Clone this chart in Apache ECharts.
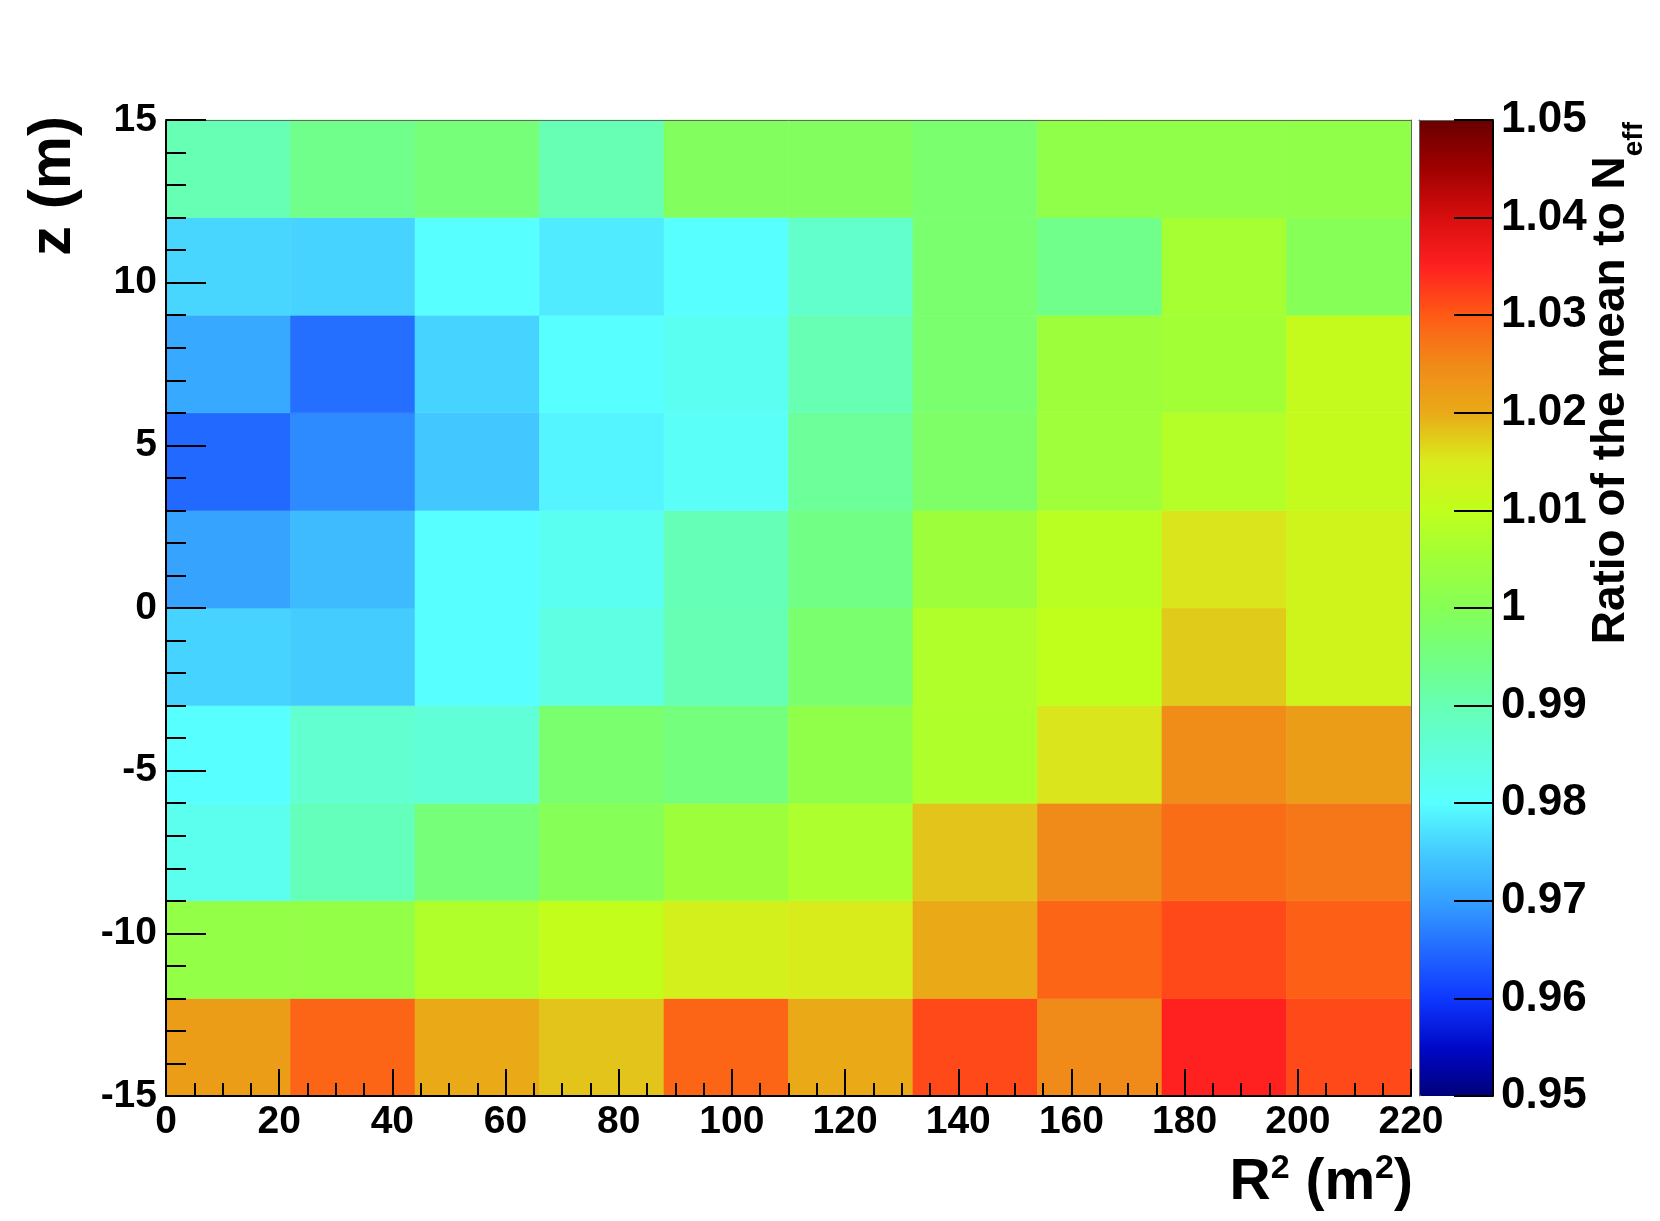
<!DOCTYPE html>
<html>
<head>
    <meta charset="utf-8">
    <title>Ratio of the mean to Neff</title>
    <script src="https://cdn.jsdelivr.net/npm/echarts@6/dist/echarts.min.js"></script>
    <style>
        html, body { margin: 0; padding: 0; background: #ffffff; }
        #chart { width: 1660px; height: 1221px; }
    </style>
</head>
<body>
<div id="chart"></div>
<script>
    // bin edges
    var r2Edges = [0, 22, 44, 66, 88, 110, 132, 154, 176, 198, 220];
    var zEdges = [-15, -12, -9, -6, -3, 0, 3, 6, 9, 12, 15];

    // ratio of the mean to Neff, one array per z bin (bottom to top), one value per R2 bin
    var zBinM15 = [1.022, 1.029, 1.020, 1.018, 1.029, 1.020, 1.0315, 1.025, 1.035, 1.0315];
    var zBinM12 = [1.0025, 1.0025, 1.0075, 1.0105, 1.014, 1.015, 1.020, 1.029, 1.0315, 1.0295];
    var zBinM9 = [0.9825, 0.989, 0.996, 1.000, 1.0045, 1.007, 1.018, 1.025, 1.028, 1.027];
    var zBinM6 = [0.980, 0.9865, 0.9855, 0.997, 0.9955, 1.002, 1.0073, 1.0155, 1.0245, 1.022];
    var zBinM3 = [0.9757, 0.975, 0.980, 0.984, 0.990, 0.997, 1.0075, 1.010, 1.0175, 1.013];
    var zBin0 = [0.9705, 0.973, 0.980, 0.982, 0.9895, 0.9945, 1.0045, 1.009, 1.0155, 1.013];
    var zBin3 = [0.965, 0.968, 0.9745, 0.979, 0.981, 0.9925, 0.998, 1.0047, 1.008, 1.011];
    var zBin6 = [0.971, 0.9655, 0.9757, 0.980, 0.982, 0.990, 0.997, 1.0045, 1.0055, 1.011];
    var zBin9 = [0.976, 0.9757, 0.980, 0.978, 0.980, 0.987, 0.997, 0.994, 1.006, 1.000];
    var zBin12 = [0.990, 0.994, 0.996, 0.990, 0.999, 0.999, 0.997, 1.002, 1.002, 1.002];
    var ratioRows = [zBinM15, zBinM12, zBinM9, zBinM6, zBinM3, zBin0, zBin3, zBin6, zBin9, zBin12];

    // colour scale
    var colorMin = 0.95;
    var colorMax = 1.05;
    var palette = [
        '#00007a', '#0008c8', '#0e38ff', '#226aff', '#34a0ff', '#44ccff', '#58ffff',
        '#60ffdc', '#66ffb4', '#72ff80', '#86ff56', '#a0ff38', '#c0ff1c', '#d8ec1c',
        '#eaaa18', '#f08a18', '#ff5a16', '#ff2020', '#d80e0e', '#a00000', '#680000'
    ];

    var FONT = '"Liberation Sans", Arial, Helvetica, sans-serif';

    var cells = [];
    for (var k = 0; k < ratioRows.length; k++) {
        for (var j = 0; j < ratioRows[k].length; j++) {
            cells.push([r2Edges[j], r2Edges[j + 1], zEdges[k], zEdges[k + 1], ratioRows[k][j]]);
        }
    }

    // text width, used to put the super/subscripts next to their base text
    var measureCtx = document.createElement('canvas').getContext('2d');
    function textWidth(str, size) {
        measureCtx.font = 'bold ' + size + 'px ' + FONT;
        return measureCtx.measureText(str).width;
    }

    function boldText(str, size, x, y, align, rotation) {
        return {
            type: 'text', x: x, y: y, rotation: rotation || 0,
            style: {
                text: str, fill: '#000', align: align, verticalAlign: 'middle',
                fontSize: size, fontWeight: 'bold', fontFamily: FONT
            }
        };
    }

    // x title "R^2 (m^2)", right edge at the end of the axis
    var titleParts = [['R', 57, 1183], ['2', 34, 1169], [' (m', 57, 1183], ['2', 34, 1169], [')', 57, 1183]];
    var titleWidth = 0;
    titleParts.forEach(function (p) { titleWidth += textWidth(p[0], p[1]); });
    var xTitle = [];
    var cx = 1413 - titleWidth;
    titleParts.forEach(function (p) {
        xTitle.push(boldText(p[0], p[1], cx, p[2], 'left'));
        cx += textWidth(p[0], p[1]);
    });

    // palette title, rotated, with subscript "eff"
    var effWidth = textWidth('eff', 28);
    var zTitle = [
        boldText('Ratio of the mean to N', 46, 1611, 122 + effWidth, 'right', Math.PI / 2),
        boldText('eff', 28, 1634, 122, 'right', Math.PI / 2),
        boldText('z (m)', 60, 53, 116, 'right', Math.PI / 2)
    ];

    var labelStyle = {fontSize: 39, fontWeight: 'bold', fontFamily: FONT, color: '#000'};
    var blackLine = {color: '#000', width: 2};
    var frameLine = {show: true, onZero: false, lineStyle: {color: '#666', width: 1}};

    var chart = echarts.init(document.getElementById('chart'));
    chart.setOption({
        animation: false,
        backgroundColor: '#ffffff',
        grid: [
            {left: 166, top: 120, width: 1245, height: 976},
            {left: 1419, top: 120, width: 74, height: 976}
        ],
        xAxis: [
            {
                type: 'value', gridIndex: 0, min: 0, max: 220, interval: 20, position: 'bottom', z: 10,
                axisLine: {show: true, onZero: false, lineStyle: blackLine},
                axisTick: {show: true, inside: true, length: 27, lineStyle: blackLine},
                minorTick: {show: true, splitNumber: 4, length: 13, lineStyle: blackLine},
                splitLine: {show: false},
                axisLabel: Object.assign({margin: 7}, labelStyle)
            },
            {
                type: 'value', gridIndex: 0, min: 0, max: 220, position: 'top', z: 10,
                axisLine: frameLine, axisTick: {show: false}, axisLabel: {show: false}, splitLine: {show: false}
            },
            {
                type: 'value', gridIndex: 1, min: 0, max: 1, position: 'top', z: 10,
                axisLine: frameLine, axisTick: {show: false}, axisLabel: {show: false}, splitLine: {show: false}
            }
        ],
        yAxis: [
            {
                type: 'value', gridIndex: 0, min: -15, max: 15, interval: 5, position: 'left', z: 10,
                axisLine: {show: true, onZero: false, lineStyle: blackLine},
                axisTick: {show: true, inside: true, length: 40, lineStyle: blackLine},
                minorTick: {show: true, splitNumber: 5, length: 20, lineStyle: blackLine},
                splitLine: {show: false},
                axisLabel: Object.assign({margin: 9}, labelStyle)
            },
            {
                type: 'value', gridIndex: 0, min: -15, max: 15, position: 'right', z: 10,
                axisLine: frameLine, axisTick: {show: false}, axisLabel: {show: false}, splitLine: {show: false}
            },
            {
                type: 'value', gridIndex: 1, min: colorMin, max: colorMax, interval: 0.01, position: 'right', z: 10,
                axisLine: {show: true, onZero: false, lineStyle: blackLine},
                axisTick: {show: true, inside: true, length: 39, lineStyle: blackLine},
                splitLine: {show: false},
                axisLabel: {margin: 8, fontSize: 44, fontWeight: 'bold', fontFamily: FONT, color: '#000'}
            },
            {
                type: 'value', gridIndex: 1, min: colorMin, max: colorMax, position: 'left', z: 10,
                axisLine: frameLine, axisTick: {show: false}, axisLabel: {show: false}, splitLine: {show: false}
            }
        ],
        visualMap: {
            type: 'continuous',
            min: colorMin,
            max: colorMax,
            dimension: 4,
            seriesIndex: 0,
            calculable: false,
            hoverLink: false,
            left: 1419,
            top: 120,
            padding: 0,
            itemWidth: 74,
            itemHeight: 976,
            inRange: {color: palette}
        },
        series: [
            {
                type: 'custom',
                coordinateSystem: 'cartesian2d',
                xAxisIndex: 0,
                yAxisIndex: 0,
                encode: {x: [0, 1], y: [2, 3]},
                data: cells,
                renderItem: function (params, api) {
                    var p0 = api.coord([api.value(0), api.value(3)]);
                    var p1 = api.coord([api.value(1), api.value(2)]);
                    var c = api.visual('color');
                    return {
                        type: 'rect',
                        shape: {x: p0[0], y: p0[1], width: p1[0] - p0[0], height: p1[1] - p0[1]},
                        style: {fill: c, stroke: c, lineWidth: 0.6}
                    };
                }
            }
        ],
        graphic: xTitle.concat(zTitle)
    });
</script>
</body>
</html>
